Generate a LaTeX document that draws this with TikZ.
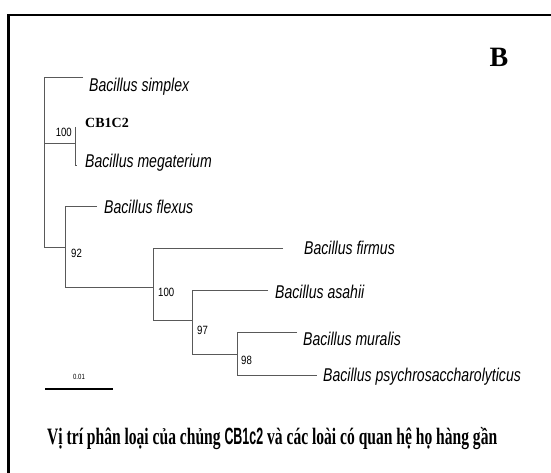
\documentclass[tikz,border=0pt]{standalone}
\usepackage{fontspec}
\usepackage{graphicx}
\setmainfont{Liberation Serif}
\newfontfamily\spfont[FakeStretch=0.76]{Liberation Sans}
\newfontfamily\numfont[FakeStretch=0.8]{Liberation Sans}
\newfontfamily\capsans[FakeStretch=0.8]{Liberation Sans}
\begin{document}
\begin{tikzpicture}[x=1pt,y=-1pt,
  branch/.style={draw=black!65,line width=0.8pt},
  species/.style={anchor=west,inner sep=0pt,font=\spfont\itshape\fontsize{18.5}{21}\selectfont},
  boot/.style={inner sep=0pt,font=\numfont\fontsize{12}{14}\selectfont},
  strain/.style={anchor=west,inner sep=0pt,font=\bfseries\fontsize{14}{16}\selectfont},
  frame/.style={draw=black,line width=2.3pt}]
\useasboundingbox (0,0) rectangle (551,473);
\fill[white] (0,0) rectangle (551,473);
% frame
\coordinate (fbl) at (8.5,480);
\coordinate (ftl) at (8.5,15);
\coordinate (ftr) at (560,15);
\draw[frame] (fbl) -- (ftl) -- (ftr);
% panel letter
\node[inner sep=0pt,font=\bfseries\fontsize{28}{32}\selectfont] (letter) at (499,57.5) {B};
% internal nodes
\coordinate (root) at (44,143);
\coordinate (n100a) at (75,143);
\coordinate (n92) at (65,247);
\coordinate (n100b) at (153,287);
\coordinate (n97) at (192,320);
\coordinate (n98) at (237,354);
% leaves
\node[species] (simplex) at (89,87) {Bacillus simplex};
\node[strain] (cb) at (85,123) {CB1C2};
\node[species] (mega) at (85,163) {Bacillus megaterium};
\node[species] (flexus) at (104,207) {Bacillus flexus};
\node[species] (firmus) at (304,248) {Bacillus firmus};
\node[species] (asahii) at (275,292) {Bacillus asahii};
\node[species] (muralis) at (303,339) {Bacillus muralis};
\node[species] (psychro) at (323,377) {Bacillus psychrosaccharolyticus};
% branch ends
\coordinate (esimplex) at (83,77);
\coordinate (ecb) at (75,127);
\coordinate (emega) at (77,165);
\coordinate (eflexus) at (97,206);
\coordinate (efirmus) at (283,248);
\coordinate (easahii) at (268,290);
\coordinate (emuralis) at (297,332);
\coordinate (epsychro) at (317,375);
% branches
\draw[branch] (esimplex) -- (esimplex -| root) -- (root |- n92) -- (n92);
\draw[branch] (root) -- (n100a);
\draw[branch] (ecb) -- (n100a |- emega) -- (emega);
\draw[branch] (eflexus) -- (eflexus -| n92) -- (n92 |- n100b) -- (n100b);
\draw[branch] (efirmus) -- (efirmus -| n100b) -- (n100b |- n97) -- (n97);
\draw[branch] (easahii) -- (easahii -| n97) -- (n97 |- n98) -- (n98);
\draw[branch] (emuralis) -- (emuralis -| n98) -- (n98 |- epsychro) -- (epsychro);
% bootstrap values
\node[boot,anchor=east] (b100a) at (72,132) {100};
\node[boot,anchor=west] (b92) at (71,253) {92};
\node[boot,anchor=west] (b100b) at (158,292) {100};
\node[boot,anchor=west] (b97) at (197,330) {97};
\node[boot,anchor=west] (b98) at (241,360) {98};
% scale bar
\coordinate (sbl) at (45,389);
\coordinate (sbr) at (113,389);
\draw[black,line width=1.5pt] (sbl) -- (sbr);
\node[inner sep=0pt,font=\numfont\fontsize{7.5}{9}\selectfont] (sblab) at (79,377) {0.01};
% caption
\node[anchor=base west,inner sep=0pt] (caption) at (47,444)
  {\resizebox{450pt}{\height}{\bfseries\fontsize{23.5}{26}\selectfont Vị trí phân loại của chủng {\capsans\bfseries CB1c2} và các loài có quan hệ họ hàng gần}};
\end{tikzpicture}
\end{document}
